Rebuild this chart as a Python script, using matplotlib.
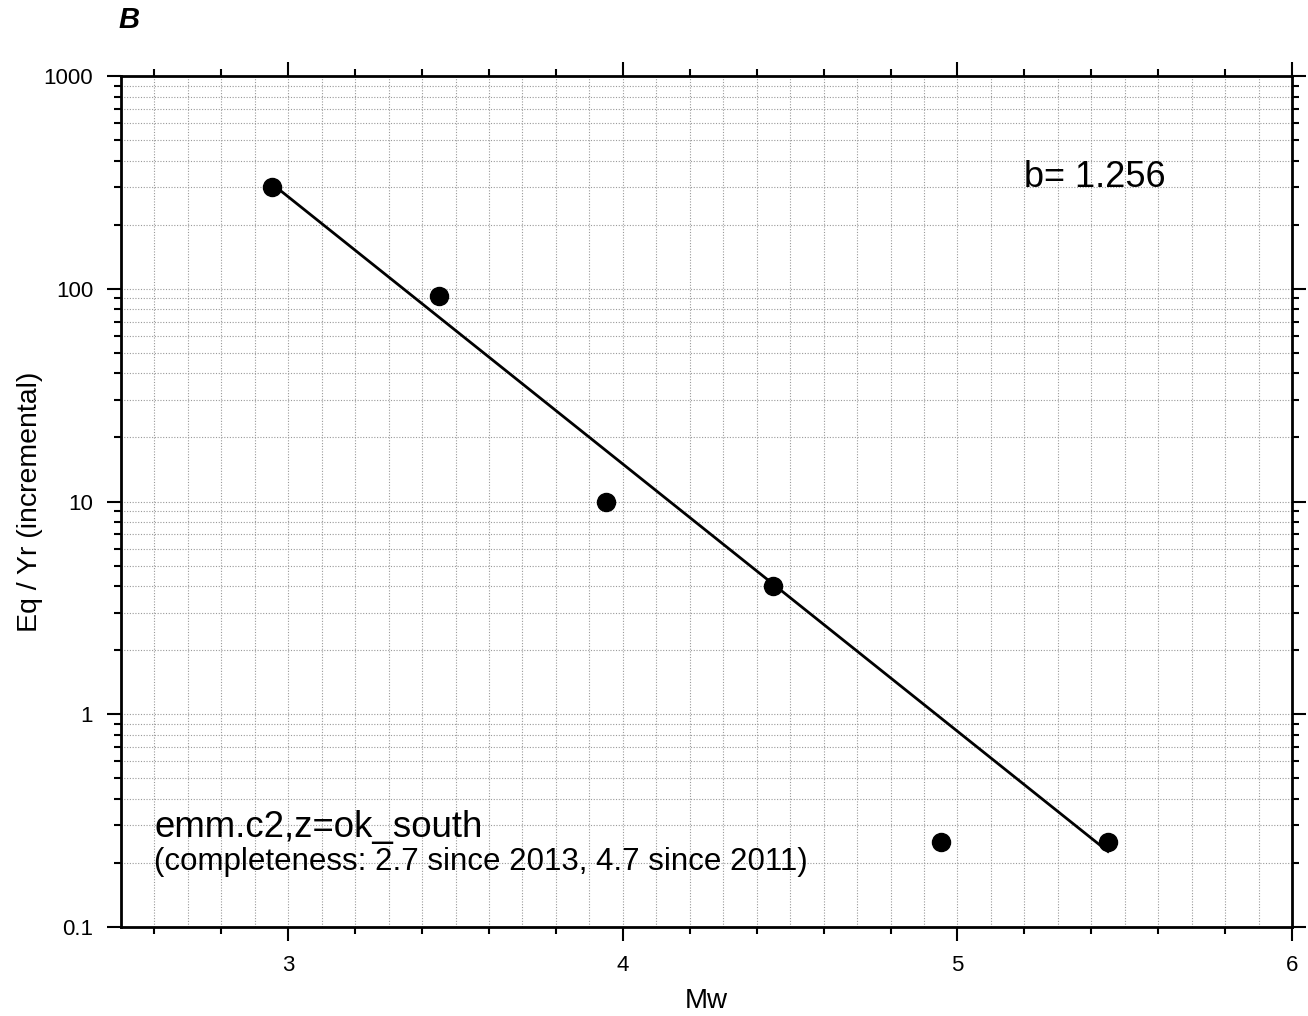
import numpy as np
import matplotlib
matplotlib.use("Agg")
import matplotlib.pyplot as plt
from matplotlib.ticker import MultipleLocator, LogLocator, NullFormatter, FixedLocator

plt.rcParams['font.family'] = ['Liberation Sans', 'DejaVu Sans']

# Incremental magnitude-frequency data (bin centres, events per year)
mw_bins = [2.95, 3.45, 3.95, 4.45, 4.95, 5.45]
eq_per_yr = [300, 92, 10, 4, 0.25, 0.25]

# Gutenberg-Richter fit: log10(N) = a - b*M
b_value = 1.256
a_value = 6.20
fit_range = [2.95, 5.45]

x_major = [3, 4, 5, 6]
y_major = [0.1, 1, 10, 100, 1000]
y_labels = ['0.1', '1', '10', '100', '1000']

W, H = 1308, 1016
AX_L, AX_R, AX_T, AX_B = 121, 1292, 76, 927
fig = plt.figure(figsize=(W / 100, H / 100), dpi=100)
ax = fig.add_axes([AX_L / W, 1 - AX_B / H, (AX_R - AX_L) / W, (AX_B - AX_T) / H])

ax.set_xscale('linear')
ax.set_yscale('log')
ax.set_xlim(2.5, 6.0)
ax.set_ylim(0.1, 1000)

grid_kw = dict(color='#999999', lw=0.8, ls=(0, (1, 1.5)), zorder=0)

# grid: every 0.1 in Mw, every 1-9 sub-decade in rate
ax.xaxis.set_major_locator(FixedLocator(x_major))
ax.xaxis.set_minor_locator(MultipleLocator(0.2))
ax.set_xticklabels([str(v) for v in x_major])
for xv in np.arange(2.6, 6.0, 0.1):
    ax.axvline(xv, **grid_kw)
ax.yaxis.set_major_locator(FixedLocator(y_major))
ax.set_yticklabels(y_labels)
ax.yaxis.set_minor_locator(LogLocator(base=10, subs=np.arange(2, 10), numticks=20))
ax.yaxis.set_minor_formatter(NullFormatter())
ax.grid(True, which='both', axis='y', **grid_kw)

ax.tick_params(which='both', direction='out', top=True, right=True,
               labelsize=16, width=1.5, colors='black')
ax.tick_params(which='major', length=10, pad=10)
ax.tick_params(which='minor', length=5)
for s in ax.spines.values():
    s.set_linewidth(2)

# fitted line and observed rates
fx = np.array(fit_range)
fy = 10 ** (a_value - b_value * fx)
ax.plot(fx, fy, color='black', lw=2, zorder=3)
ax.plot(mw_bins, eq_per_yr, 'o', color='black', ms=13, zorder=4)

ax.set_xlabel('Mw', fontsize=20)
ax.set_ylabel('Eq / Yr (incremental)', fontsize=20.5)
ax.xaxis.set_label_coords(0.5, -(988 - AX_B) / (AX_B - AX_T))
ax.yaxis.set_label_coords(-(AX_L - 43) / (AX_R - AX_L), 0.5)

ax.text(5.2, 335, 'b= 1.256', fontsize=26, va='center', ha='left')
ax.text(2.6, 0.295, 'emm.c2,z=ok_south', fontsize=26.4, va='center', ha='left')
ax.text(2.6, 0.203, '(completeness: 2.7 since 2013, 4.7 since 2011)',
        fontsize=22.5, va='center', ha='left')

fig.text(118 / W, 1 - 20 / H, 'B', fontsize=21, fontweight='bold',
         fontstyle='italic', va='center', ha='left')

fig.savefig('out.png', dpi=100)
